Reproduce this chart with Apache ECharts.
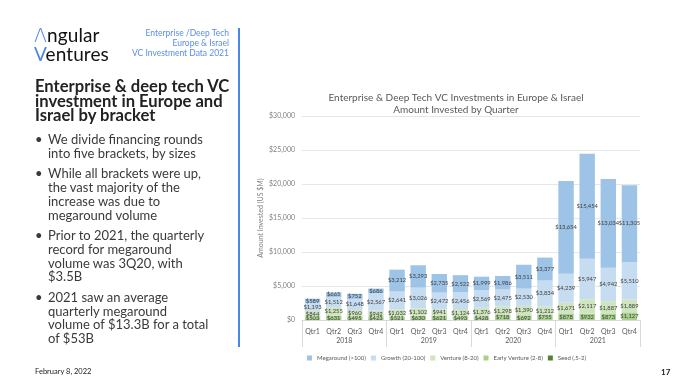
<!DOCTYPE html>
<html><head><meta charset="utf-8">
<script src="https://cdn.jsdelivr.net/npm/echarts@6/dist/echarts.min.js"></script>
<style>
html,body{margin:0;padding:0;background:#fff;}
#wrap{position:relative;width:680px;height:383px;overflow:hidden;font-family:Lato,"Noto Sans",sans-serif;}
#chart{position:absolute;left:0;top:0;width:680px;height:383px;}
.t{position:absolute;white-space:nowrap;}
</style></head>
<body><div id="wrap"><div id="chart"></div>
<div class="t" style="left:34px;top:26px;font-size:19px;line-height:17.5px;color:#111;letter-spacing:0.1px;"><span style="color:#4a86e8;font-family:'DejaVu Sans',sans-serif;font-weight:300;">Λ</span>ngular<br><span style="color:#4a86e8">V</span>entures</div>
<div class="t" style="right:451px;top:29px;font-size:8.5px;line-height:9.8px;color:#5b8ee6;text-align:right;">Enterprise /Deep Tech<br>Europe &amp; Israel<br>VC Investment Data 2021</div>
<div style="position:absolute;left:238px;top:28px;width:2px;height:319px;background:#4a86e8;"></div>
<div class="t" style="left:35px;top:79px;font-size:16.6px;line-height:14.6px;font-weight:bold;color:#222;">Enterprise &amp; deep tech VC<br>investment in Europe and<br>Israel by bracket</div>
<div class="t" id="bul" style="left:35px;top:133px;font-size:13px;line-height:13.7px;color:#3a3a3a;"></div>
<div class="t" style="left:35px;top:367px;font-size:7.5px;color:#222;">February 8, 2022</div>
<div class="t" style="left:661px;top:367px;font-size:8px;font-weight:bold;color:#222;">17</div>
</div>
<script>
var bullets = [
  ["We divide financing rounds","into five brackets, by sizes"],
  ["While all brackets were up,","the vast majority of the","increase was due to","megaround volume"],
  ["Prior to 2021, the quarterly","record for megaround","volume was 3Q20, with","$3.5B"],
  ["2021 saw an average","quarterly megaround","volume of $13.3B for a total","of $53B"]
];
var h='';
bullets.forEach(function(b,i){
  h+='<div style="position:relative;padding-left:13px;margin-bottom:'+(i<3?7:0)+'px"><span style="position:absolute;left:0;top:0">•</span>'+b.join('<br>')+'</div>';
});
document.getElementById('bul').innerHTML=h;

var quarters = ["Qtr1","Qtr2","Qtr3","Qtr4","Qtr1","Qtr2","Qtr3","Qtr4","Qtr1","Qtr2","Qtr3","Qtr4","Qtr1","Qtr2","Qtr3","Qtr4"];
var years = ["2018","2019","2020","2021"];
var seriesNames = ["Megaround (>100)","Growth (20-100)","Venture (8-20)","Early Venture (2-8)","Seed (.5-2)"];
var megaround = [589,665,752,686,3212,3293,2735,2522,1999,1986,3511,3377,13654,15454,13034,11305];
var growth = [1193,1512,1648,2567,2641,3026,2472,2456,2569,2475,2530,3834,4239,5947,4942,5510];
var venture = [844,1255,960,942,1032,1102,941,1124,1376,1298,1390,1212,1671,2117,1887,1889];
var earlyVenture = [503,631,495,423,521,630,621,493,428,718,692,755,878,932,873,1127];
var seed = [];
var colors = ["#9dc3e6","#c6dcf0","#cfe5bd","#a9d18e","#548235"];
var yTicks = [0,5000,10000,15000,20000,25000,30000];

function fmt(v){return '$'+Math.round(v).toString().replace(/\B(?=(\d{3})+(?!\d))/g, ',');}
var dataSets=[megaround,growth,venture,earlyVenture,seed];
var order=[4,3,2,1,0];
var series=order.map(function(i){
  return {name:seriesNames[i],type:'bar',stack:'all',data:dataSets[i],barCategoryGap:'27%',
    itemStyle:{color:colors[i]},
    label:{show:true,position:'inside',fontSize:5.8,color:'#404040',fontFamily:'Lato',formatter:function(p){return fmt(p.value);}}};
});
var chart=echarts.init(document.getElementById('chart'),null,{renderer:'canvas'});
chart.setOption({
  animation:false,
  title:{text:'Enterprise & Deep Tech VC Investments in Europe & Israel\nAmount Invested by Quarter',left:451,textAlign:'center',top:87,
    textStyle:{fontSize:10,fontWeight:'normal',color:'#595959',lineHeight:12,fontFamily:'Lato'}},
  legend:{data:seriesNames,bottom:22,left:307,padding:0,itemWidth:5,itemHeight:5,itemGap:5,icon:'rect',
    textStyle:{fontSize:6,color:'#595959',fontFamily:'Lato'}},
  grid:{left:302,right:40,top:116,bottom:63},
  xAxis:[
    {type:'category',data:quarters,axisLine:{lineStyle:{color:'#d9d9d9'}},axisTick:{show:false},
     axisLabel:{fontSize:7,color:'#595959',margin:8,fontFamily:'Lato'}},
    {type:'category',data:years,position:'bottom',axisLine:{show:false},
     axisTick:{show:true,length:27,lineStyle:{color:'#d9d9d9'}},
     axisLabel:{fontSize:7,color:'#595959',margin:17,fontFamily:'Lato'}}
  ],
  yAxis:{type:'value',min:yTicks[0],max:yTicks[yTicks.length-1],interval:5000,
    name:'Amount Invested (US $M)',nameLocation:'middle',nameGap:38,nameRotate:90,
    nameTextStyle:{fontSize:7,color:'#7f7f7f',fontFamily:'Lato'},
    axisLabel:{fontSize:7,color:'#7f7f7f',margin:7,formatter:fmt,fontFamily:'Lato'},
    splitLine:{lineStyle:{color:'#e6e6e6'}}},
  series:series
});
</script></body></html>
